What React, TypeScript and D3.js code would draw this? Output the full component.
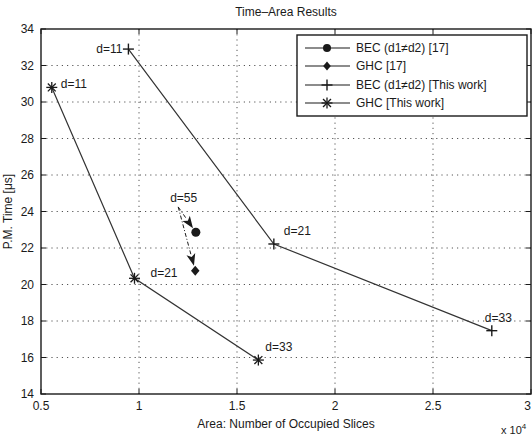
import React from "react";
import * as d3 from "d3";

const xTicks = [0.5, 1, 1.5, 2, 2.5, 3];
const xTickLabels = ["0.5", "1", "1.5", "2", "2.5", "3"];
const yTicks = [14, 16, 18, 20, 22, 24, 26, 28, 30, 32, 34];

const becThisX = [0.946, 1.688, 2.8];
const becThisY = [32.9, 22.22, 17.47];
const becThisLabels = ["d=11", "d=21", "d=33"];

const ghcThisX = [0.555, 0.977, 1.609];
const ghcThisY = [30.8, 20.34, 15.86];
const ghcThisLabels = ["d=11", "d=21", "d=33"];

const becRefX = [1.29];
const becRefY = [22.86];
const ghcRefX = [1.287];
const ghcRefY = [20.76];
const refStart = [1.2, 24.25];
const refLabel = "d=55";

const legendLabels = [
  "BEC (d1\u2260d2) [17]",
  "GHC [17]",
  "BEC (d1\u2260d2) [This work]",
  "GHC [This work]",
];

const W = 532;
const H = 436;
const M = { left: 41, right: 531, top: 29, bottom: 394 };
const FONT = "Liberation Sans, Arial, sans-serif";
const INK = "#1a1a1a";
const FS = 12;

function Plus({ x, y, s = 5.5 }: { x: number; y: number; s?: number }) {
  return (
    <g stroke={INK} strokeWidth={1.4}>
      <line x1={x - s} x2={x + s} y1={y} y2={y} />
      <line x1={x} x2={x} y1={y - s} y2={y + s} />
    </g>
  );
}
function Star({ x, y, s = 5.5 }: { x: number; y: number; s?: number }) {
  const d = s * 0.72;
  return (
    <g stroke={INK} strokeWidth={1.3}>
      <line x1={x - s} x2={x + s} y1={y} y2={y} />
      <line x1={x} x2={x} y1={y - s} y2={y + s} />
      <line x1={x - d} x2={x + d} y1={y - d} y2={y + d} />
      <line x1={x - d} x2={x + d} y1={y + d} y2={y - d} />
    </g>
  );
}
function Diamond({ x, y, s = 5 }: { x: number; y: number; s?: number }) {
  return <path d={`M${x},${y - s}L${x + s * 0.85},${y}L${x},${y + s}L${x - s * 0.85},${y}Z`} fill={INK} />;
}

export default function App() {
  const x = d3.scaleLinear().domain([0.5, 3]).range([M.left, M.right]);
  const y = d3.scaleLinear().domain([14, 34]).range([M.bottom, M.top]);
  const line = d3
    .line<[number, number]>()
    .x((d) => x(d[0]))
    .y((d) => y(d[1]));

  const becPts = becThisX.map((v, i) => [v, becThisY[i]] as [number, number]);
  const ghcPts = ghcThisX.map((v, i) => [v, ghcThisY[i]] as [number, number]);

  const arrow = (tx: number, ty: number) => {
    const x0 = x(refStart[0]);
    const y0 = y(refStart[1]);
    const x1 = x(tx);
    const y1 = y(ty);
    const ang = Math.atan2(y1 - y0, x1 - x0);
    const ex = x1 - Math.cos(ang) * 5;
    const ey = y1 - Math.sin(ang) * 5;
    const L = 12;
    const Wd = 4.5;
    const bx = ex - Math.cos(ang) * L;
    const by = ey - Math.sin(ang) * L;
    const px = -Math.sin(ang) * Wd;
    const py = Math.cos(ang) * Wd;
    return (
      <g>
        <line x1={x0} y1={y0} x2={bx} y2={by} stroke={INK} strokeWidth={1} strokeDasharray="4,2,1,2" />
        <path d={`M${ex},${ey}L${bx + px},${by + py}L${bx + (ex - bx) * 0.25},${by + (ey - by) * 0.25}L${bx - px},${by - py}Z`} fill={INK} />
      </g>
    );
  };

  const lx0 = 297;
  const ly0 = 35;
  const lw = 230;
  const lh = 81;
  const rowY = [48, 66, 85, 103];

  return (
    <div style={{ position: "fixed", left: 0, top: 0 }}>
      <svg width={W} height={H} style={{ display: "block", background: "#fff" }} fontFamily={FONT}>
        {/* grid */}
        <g stroke="#555" strokeWidth={1} strokeDasharray="1.2,4">
          {xTicks.slice(1, -1).map((t) => (
            <line key={"gx" + t} x1={x(t)} x2={x(t)} y1={M.top} y2={M.bottom} />
          ))}
          {yTicks.slice(1, -1).map((t) => (
            <line key={"gy" + t} x1={M.left} x2={M.right} y1={y(t)} y2={y(t)} />
          ))}
        </g>
        {/* frame */}
        <rect x={M.left} y={M.top} width={M.right - M.left} height={M.bottom - M.top} fill="none" stroke={INK} strokeWidth={1.4} />
        {/* ticks */}
        <g stroke={INK} strokeWidth={1}>
          {xTicks.map((t) => (
            <g key={"tx" + t}>
              <line x1={x(t)} x2={x(t)} y1={M.bottom} y2={M.bottom - 5} />
              <line x1={x(t)} x2={x(t)} y1={M.top} y2={M.top + 5} />
            </g>
          ))}
          {yTicks.map((t) => (
            <g key={"ty" + t}>
              <line x1={M.left} x2={M.left + 5} y1={y(t)} y2={y(t)} />
              <line x1={M.right} x2={M.right - 5} y1={y(t)} y2={y(t)} />
            </g>
          ))}
        </g>
        {/* tick labels */}
        <g fontSize={FS} fill={INK}>
          {xTicks.map((t, i) => (
            <text key={"lx" + t} x={i === xTicks.length - 1 ? W - 1 : x(t)} y={M.bottom + 16} textAnchor={i === xTicks.length - 1 ? "end" : "middle"}>
              {xTickLabels[i]}
            </text>
          ))}
          {yTicks.map((t) => (
            <text key={"ly" + t} x={M.left - 7} y={y(t) + 4} textAnchor="end">
              {t}
            </text>
          ))}
          <text x={W - 31} y={434} fontSize={11}>
            x 10<tspan dy={-5} fontSize={8}>4</tspan>
          </text>
        </g>
        {/* title and axis labels */}
        <text x={(M.left + M.right) / 2} y={16} textAnchor="middle" fontSize={FS} fill={INK}>
          Time–Area Results
        </text>
        <text x={(M.left + M.right) / 2} y={428} textAnchor="middle" fontSize={FS} fill={INK}>
          Area: Number of Occupied Slices
        </text>
        <text transform={`translate(12,${(M.top + M.bottom) / 2}) rotate(-90)`} textAnchor="middle" fontSize={FS} fill={INK}>
          P.M. Time [μs]
        </text>
        {/* series lines */}
        <path d={line(becPts) || ""} fill="none" stroke="#333" strokeWidth={1.2} />
        <path d={line(ghcPts) || ""} fill="none" stroke="#333" strokeWidth={1.2} />
        {becPts.map((p, i) => (
          <Plus key={"bp" + i} x={x(p[0])} y={y(p[1])} />
        ))}
        {ghcPts.map((p, i) => (
          <Star key={"gp" + i} x={x(p[0])} y={y(p[1])} />
        ))}
        {/* reference points */}
        {arrow(becRefX[0], becRefY[0])}
        {arrow(ghcRefX[0], ghcRefY[0])}
        {becRefX.map((v, i) => (
          <circle key={"bc" + i} cx={x(v)} cy={y(becRefY[i])} r={4.5} fill={INK} />
        ))}
        {ghcRefX.map((v, i) => (
          <Diamond key={"gd" + i} x={x(v)} y={y(ghcRefY[i])} />
        ))}
        {/* point labels */}
        <g fontSize={FS} fill={INK}>
          <text x={x(becThisX[0]) - 6} y={y(becThisY[0]) + 4} textAnchor="end">{becThisLabels[0]}</text>
          <text x={x(becThisX[1]) + 10} y={y(becThisY[1]) - 9}>{becThisLabels[1]}</text>
          <text x={x(becThisX[2]) - 7} y={y(becThisY[2]) - 9}>{becThisLabels[2]}</text>
          <text x={x(ghcThisX[0]) + 9} y={y(ghcThisY[0]) + 1}>{ghcThisLabels[0]}</text>
          <text x={x(ghcThisX[1]) + 16} y={y(ghcThisY[1]) - 1}>{ghcThisLabels[1]}</text>
          <text x={x(ghcThisX[2]) + 7} y={y(ghcThisY[2]) - 9}>{ghcThisLabels[2]}</text>
          <text x={x(refStart[0]) - 8} y={y(refStart[1]) - 5}>{refLabel}</text>
        </g>
        {/* legend */}
        <rect x={lx0} y={ly0} width={lw} height={lh} fill="#fff" stroke={INK} strokeWidth={1.4} />
        {legendLabels.map((lab, i) => (
          <g key={"lg" + i}>
            <line x1={305} x2={350} y1={rowY[i]} y2={rowY[i]} stroke={INK} strokeWidth={1.1} />
            {i === 0 && <circle cx={327} cy={rowY[i]} r={4} fill={INK} />}
            {i === 1 && <Diamond x={327} y={rowY[i]} s={4.5} />}
            {i === 2 && <Plus x={327} y={rowY[i]} />}
            {i === 3 && <Star x={327} y={rowY[i]} />}
            <text x={356} y={rowY[i] + 4} fontSize={FS} fill={INK}>
              {lab}
            </text>
          </g>
        ))}
      </svg>
    </div>
  );
}
